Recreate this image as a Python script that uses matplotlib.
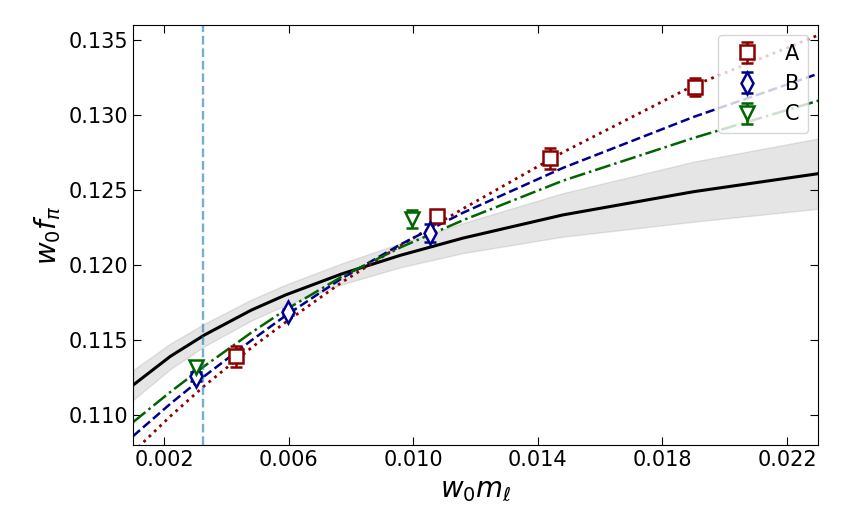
import matplotlib
matplotlib.use("Agg")
import matplotlib.pyplot as plt
import numpy as np

# data points (w0*m_l, w0*f_pi, error)
xA = [0.00432, 0.01077, 0.01439, 0.01903]
yA = [0.11393, 0.12327, 0.12713, 0.13187]
eA = [0.0007, 0.0003, 0.0007, 0.0006]

xB = [0.00303, 0.00597, 0.01055]
yB = [0.1126, 0.11687, 0.12213]
eB = [0.0003, 0.0002, 0.0006]

xC = [0.00303, 0.00997]
yC = [0.1132, 0.12307]
eC = [0.0003, 0.0006]

# fit curves
x_fit = [0.0010, 0.0022, 0.0033, 0.0048, 0.0059, 0.0077, 0.0096, 0.0116, 0.0148, 0.0190, 0.0231]
fit_A = [0.10753, 0.10993, 0.11197, 0.11449, 0.11619, 0.11885, 0.12132, 0.12376, 0.12751, 0.13196, 0.13540]
fit_B = [0.10860, 0.11076, 0.11261, 0.11498, 0.11663, 0.11911, 0.12139, 0.12349, 0.12647, 0.12987, 0.13282]
fit_C = [0.10953, 0.11155, 0.11328, 0.11550, 0.11702, 0.11922, 0.12119, 0.12299, 0.12562, 0.12847, 0.13101]
fit_cont = [0.11200, 0.11392, 0.11535, 0.11700, 0.11801, 0.11941, 0.12066, 0.12180, 0.12334, 0.12489, 0.12612]
band_hi = [0.11300, 0.11477, 0.11610, 0.11770, 0.11869, 0.12011, 0.12146, 0.12280, 0.12479, 0.12689, 0.12847]
band_lo = [0.11100, 0.11307, 0.11460, 0.11630, 0.11733, 0.11871, 0.11986, 0.12080, 0.12189, 0.12289, 0.12377]

x_phys = 0.00326

fig = plt.figure(figsize=(8.47, 5.30), dpi=100)
ax = fig.add_axes([0.157, 0.160, 0.809, 0.793])

ax.fill_between(x_fit, band_lo, band_hi, color="gray", alpha=0.2, lw=1)
ax.plot(x_fit, fit_cont, color="black", lw=2.2)
ax.plot(x_fit, fit_A, color="darkred", ls=":", lw=2)
ax.plot(x_fit, fit_B, color="darkblue", ls="--", lw=1.8)
ax.plot(x_fit, fit_C, color="darkgreen", ls="-.", lw=1.8)
ax.axvline(x_phys, color="tab:blue", ls="--", lw=1.7, alpha=0.6)

kw = dict(ls="none", mfc="white", mew=1.8, capsize=4, capthick=1.8, elinewidth=1.8)
ax.errorbar(xA, yA, yerr=eA, fmt="s", ms=9.5, color="darkred", label="A", **kw)
ax.errorbar(xB, yB, yerr=eB, fmt="d", ms=11, color="darkblue", label="B", **kw)
ax.errorbar(xC, yC, yerr=eC, fmt="v", ms=10, color="darkgreen", label="C", **kw)

ax.set_xlim(0.001, 0.023)
ax.set_ylim(0.108, 0.136)
ax.set_xticks(np.arange(0.002, 0.0225, 0.004))
ax.set_yticks(np.arange(0.110, 0.1355, 0.005))
ax.xaxis.set_major_formatter(matplotlib.ticker.FormatStrFormatter("%.3f"))
ax.yaxis.set_major_formatter(matplotlib.ticker.FormatStrFormatter("%.3f"))
ax.tick_params(direction="in", top=True, right=True, labelsize=15, length=6)

ax.set_xlabel(r"$w_0 m_\ell$", fontsize=20)
ax.set_ylabel(r"$w_0 f_\pi$", fontsize=20)
ax.legend(loc="upper right", fontsize=15)

fig.savefig("out.png", dpi=100)
